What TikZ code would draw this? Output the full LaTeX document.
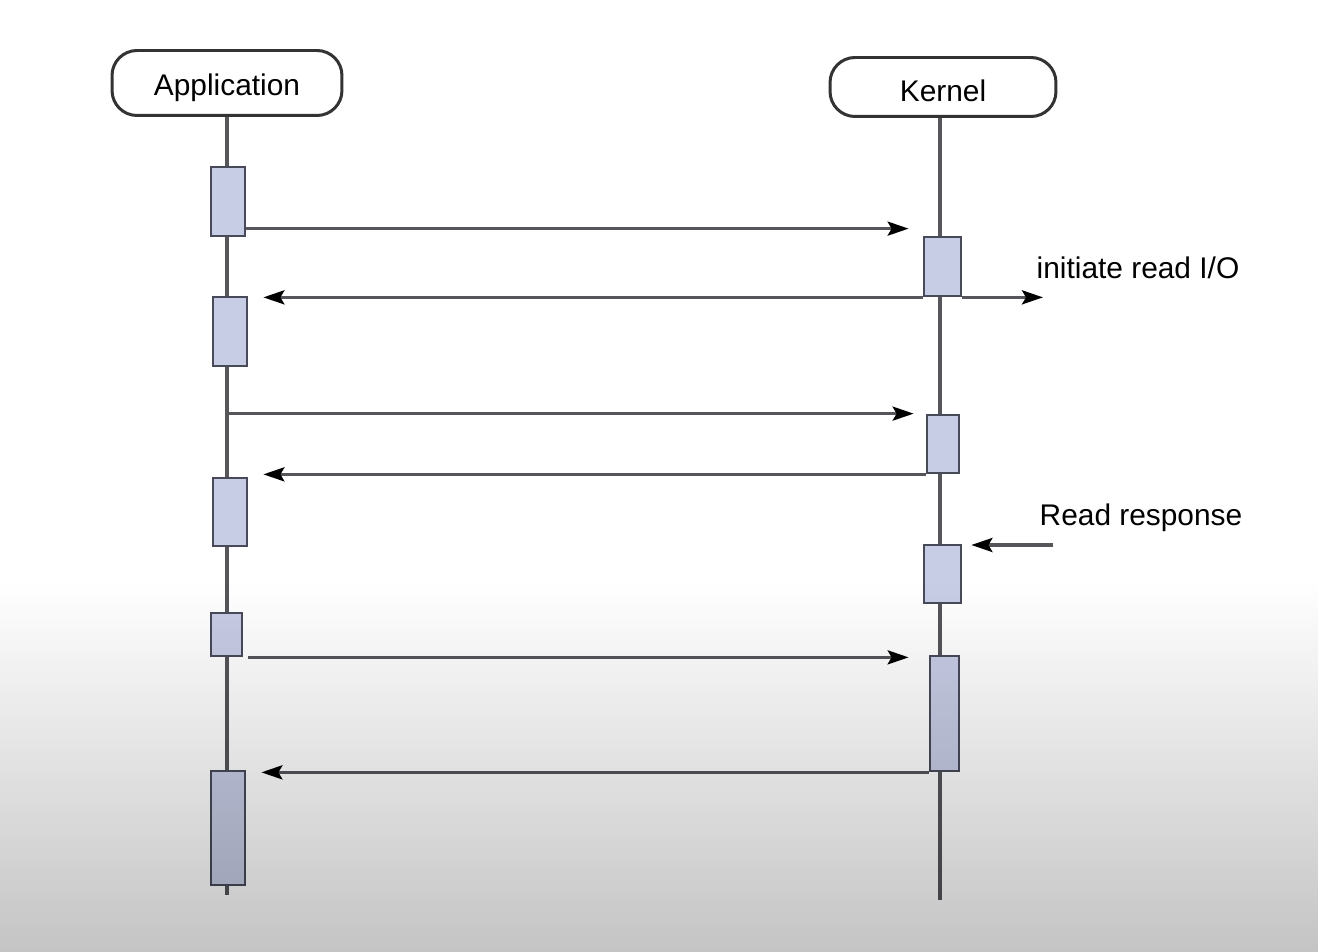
\documentclass[tikz,border=0pt]{standalone}
\usepackage{fontspec}
\setmainfont{Liberation Sans}
\usetikzlibrary{arrows.meta,positioning,calc}
\definecolor{barfill}{RGB}{200,205,230}
\definecolor{barline}{RGB}{72,74,90}
\definecolor{linegray}{RGB}{85,85,90}
\definecolor{bggray}{RGB}{196,196,196}

\begin{document}
\begin{tikzpicture}[x=0.02cm, y=-0.02cm,
  actor/.style={draw=black!80, line width=0.06cm, rounded corners=0.5cm, font=\fontsize{17}{20}\selectfont},
  actbar/.style={draw=barline, fill=barfill, line width=0.055cm, inner sep=0pt},
  life/.style={draw=linegray, line width=0.065cm},
  msg/.style={draw=linegray, line width=0.065cm, -{Stealth[length=0.42cm, width=0.28cm, inset=0.08cm, color=black]}},
  lbl/.style={font=\fontsize{17}{20}\selectfont}
]
\fill[white] (0,0) rectangle (1318,952);
\useasboundingbox (0,0) rectangle (1318,952);

\node[actor, minimum width=4.6cm, minimum height=1.3cm] (app) at (227,83) {\raisebox{-0.1cm}[\height][\depth]{Application}};
\node[actor, minimum width=4.52cm, minimum height=1.18cm] (kern) at (943,87) {\raisebox{-0.08cm}[\height][\depth]{Kernel}};

\coordinate (append) at (227,895);
\coordinate (kernend) at (940,900);
\draw[life] (app.south) -- (append);
\draw[life] (kern.south -| kernend) -- (kernend);

\node[actbar, minimum width=0.68cm, minimum height=1.38cm] (a1) at (228,201.5) {};
\node[actbar, minimum width=0.68cm, minimum height=1.38cm] (a2) at (230,331.5) {};
\node[actbar, minimum width=0.68cm, minimum height=1.36cm] (a3) at (230,512) {};
\node[actbar, minimum width=0.62cm, minimum height=0.86cm] (a4) at (226.5,634.5) {};
\node[actbar, minimum width=0.68cm, minimum height=2.28cm] (a5) at (228,828) {};
\node[actbar, minimum width=0.74cm, minimum height=1.18cm] (k1) at (942.5,266.5) {};
\node[actbar, minimum width=0.64cm, minimum height=1.16cm] (k2) at (943,444) {};
\node[actbar, minimum width=0.74cm, minimum height=1.16cm] (k3) at (942.5,574) {};
\node[actbar, minimum width=0.58cm, minimum height=2.3cm] (k4) at (944.5,713.5) {};

\coordinate (m1) at ($(k1.north west)+(0,-7)$);
\draw[msg, shorten >=0.28cm] (a1.east |- m1) -- (m1);
\draw[msg, shorten >=0.3cm] (k1.south west) -- (k1.south west -| a2.east);
\coordinate (io) at (1043,296);
\draw[msg] (k1.south east) -- (k1.south east -| io);
\node[lbl] (iolbl) at (1138,268) {initiate read I/O};

\draw[msg, shorten <=0.04cm, shorten >=0.24cm] (k2.north west -| app.south) -- (k2.north west);
\draw[msg, shorten >=0.3cm] (k2.south west) -- (k2.south west -| a3.east);

\coordinate (rr) at (1053,545);
\draw[msg, shorten >=0.18cm] (rr) -- (rr -| k3.east);
\node[lbl] (rrlbl) at (1141,518) {Read response};

\draw[msg, shorten <=0.1cm, shorten >=0.4cm] (a4.south east) -- (a4.south east -| k4.west);
\draw[msg, shorten >=0.3cm] (k4.south west) -- (k4.south west -| a5.east);

% darker lower part of the page
\begin{scope}[blend mode=multiply]
\shade[top color=white, bottom color=bggray] (0,580) rectangle (1318,952);
\end{scope}

\end{tikzpicture}
\end{document}
